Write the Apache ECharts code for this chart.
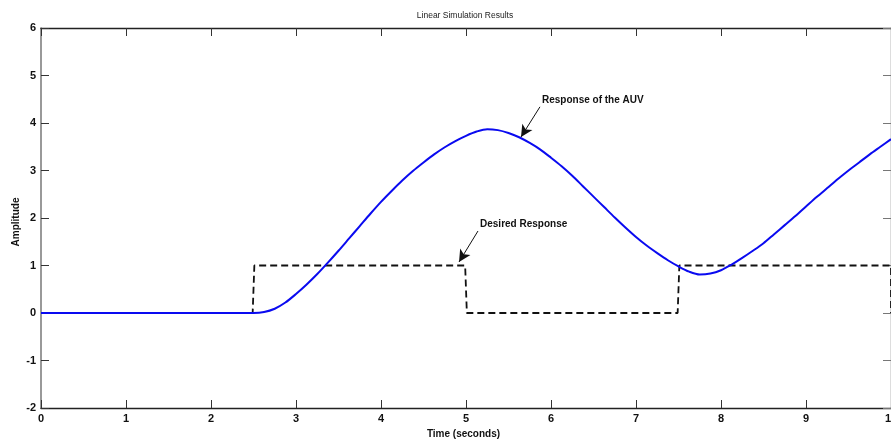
<!DOCTYPE html>
<html>
<head>
<meta charset="utf-8">
<script src="https://cdn.jsdelivr.net/npm/echarts@6/dist/echarts.min.js"></script>
<style>
  html, body { margin: 0; padding: 0; background: #fff; overflow: hidden; }
  #chart { width: 891px; height: 441px; }
</style>
</head>
<body>
<div id="chart"></div>
<script>
// Simulated AUV output (time in seconds, amplitude)
const responseTime = [
  0, 0.5, 1, 1.5, 2, 2.25, 2.5, 2.625, 2.75, 2.875,
  3.0, 3.125, 3.25, 3.375, 3.5, 3.625, 3.75, 3.875,
  4.0, 4.125, 4.25, 4.375, 4.5, 4.625, 4.75, 4.875,
  5.0, 5.125, 5.25, 5.375, 5.5, 5.625, 5.75, 5.875,
  6.0, 6.125, 6.25, 6.375, 6.5, 6.625, 6.75, 6.875,
  7.0, 7.125, 7.25, 7.375, 7.5, 7.625, 7.75, 7.875,
  8.0, 8.125, 8.25, 8.375, 8.5, 8.625, 8.75, 8.875,
  9.0, 9.125, 9.25, 9.375, 9.5, 9.625, 9.75, 9.875, 10.0
];
const responseAmp = [
  0, 0, 0, 0, 0, 0, 0, 0.02, 0.09, 0.22,
  0.40, 0.60, 0.82, 1.06, 1.31, 1.57, 1.83, 2.09,
  2.34, 2.57, 2.79, 2.99, 3.17, 3.34, 3.49, 3.62,
  3.73, 3.82, 3.87, 3.85, 3.79, 3.70, 3.58, 3.44,
  3.27, 3.09, 2.89, 2.67, 2.45, 2.23, 2.01, 1.80,
  1.60, 1.42, 1.26, 1.11, 0.98, 0.87, 0.81, 0.83,
  0.90, 1.02, 1.16, 1.31, 1.47, 1.66, 1.85, 2.04,
  2.24, 2.44, 2.63, 2.82, 3.00, 3.17, 3.34, 3.50, 3.66
];

// Commanded square-wave input
const desiredTime = [0, 2.49, 2.51, 4.99, 5.01, 7.49, 7.51, 10.0, 10.0];
const desiredAmp  = [0, 0, 1, 1, 0, 0, 1, 1, 0];

// Axis ticks
const xTicks = { min: 0, max: 10, step: 1 };
const yTicks = { min: -2, max: 6, step: 1 };

// Callout anchors: [text position, arrow tail, arrow tip] in data units
const callouts = [
  { text: 'Response of the AUV', textAt: [5.894, 4.48], tail: [5.87, 4.34], tip: [5.647, 3.705] },
  { text: 'Desired Response',    textAt: [5.165, 1.874], tail: [5.141, 1.726], tip: [4.918, 1.074] }
];

const zip = (a, b) => a.map((v, i) => [v, b[i]]);

const FONT = 'Liberation Sans, Arial, sans-serif';
const labelStyle = { fontFamily: FONT, fontWeight: 'bold', fontSize: 11, color: '#111' };
const axisLineDark = { onZero: false, lineStyle: { color: '#222', width: 1.3 } };

const chart = echarts.init(document.getElementById('chart'), null, { renderer: 'canvas' });

const option = {
  animation: false,
  backgroundColor: '#fff',
  grid: { left: 41, right: 0, top: 28, bottom: 33, containLabel: false, outerBoundsMode: 'none' },
  xAxis: [
    {
      type: 'value', position: 'bottom', min: xTicks.min, max: xTicks.max, interval: xTicks.step,
      name: 'Time (seconds)', nameLocation: 'middle', nameGap: 20,
      nameTextStyle: { fontFamily: FONT, fontWeight: 'bold', fontSize: 10, color: '#111', padding: [0, 5, 0, 0] },
      axisLine: axisLineDark,
      axisTick: { inside: true, length: 8, lineStyle: { color: '#333' } },
      axisLabel: Object.assign({ margin: 5 }, labelStyle),
      splitLine: { show: false }
    },
    {
      type: 'value', position: 'top', min: xTicks.min, max: xTicks.max, interval: xTicks.step,
      axisLine: axisLineDark,
      axisTick: { inside: true, length: 8, lineStyle: { color: '#333' } },
      axisLabel: { show: false },
      splitLine: { show: false }
    }
  ],
  yAxis: [
    {
      type: 'value', position: 'left', min: yTicks.min, max: yTicks.max, interval: yTicks.step,
      axisLine: { onZero: false, lineStyle: { color: '#777', width: 1.5 } },
      axisTick: { inside: true, length: 8, lineStyle: { color: '#333' } },
      axisLabel: Object.assign({ margin: 5 }, labelStyle),
      splitLine: { show: false }
    },
    {
      type: 'value', position: 'right', min: yTicks.min, max: yTicks.max, interval: yTicks.step,
      axisLine: axisLineDark,
      axisTick: { inside: true, length: 8, lineStyle: { color: '#777' } },
      axisLabel: { show: false },
      splitLine: { show: false }
    }
  ],
  series: [
    {
      name: 'Desired Response', type: 'line', xAxisIndex: 0, yAxisIndex: 0,
      data: zip(desiredTime, desiredAmp), showSymbol: false, z: 2,
      lineStyle: { color: '#111', width: 1.8, type: [7, 4] }
    },
    {
      name: 'Response of the AUV', type: 'line', xAxisIndex: 0, yAxisIndex: 0,
      data: zip(responseTime, responseAmp), showSymbol: false, smooth: 0.3, z: 3,
      lineStyle: { color: '#0a0af0', width: 2 },
      markLine: {
        silent: true, symbol: ['none', 'arrow'], symbolSize: [9, 12],
        lineStyle: { color: '#111', width: 1, type: 'solid' },
        label: { show: false },
        data: callouts.map(c => [{ coord: c.tail }, { coord: c.tip }])
      }
    }
  ]
};
chart.setOption(option);

// Title, y-axis caption and callout labels
const plotTop = chart.convertToPixel({ gridIndex: 0 }, [0, yTicks.max])[1];
const plotBottom = chart.convertToPixel({ gridIndex: 0 }, [0, yTicks.min])[1];
const graphics = [
  {
    type: 'text', x: 465, y: 16, z: 10,
    style: { text: 'Linear Simulation Results', fill: '#222', font: '8.5px "Liberation Sans", Arial, sans-serif', textAlign: 'center', textVerticalAlign: 'middle' }
  },
  {
    type: 'text', x: 16, y: (plotTop + plotBottom) / 2 + 4, rotation: Math.PI / 2, z: 10,
    style: { text: 'Amplitude', fill: '#111', font: 'bold 10px "Liberation Sans", Arial, sans-serif', textAlign: 'center', textVerticalAlign: 'middle' }
  }
].concat(callouts.map(c => {
  const p = chart.convertToPixel({ gridIndex: 0 }, c.textAt);
  return {
    type: 'text', x: p[0], y: p[1], z: 10,
    style: {
      text: c.text, fill: '#111',
      font: 'bold 10px "Liberation Sans", Arial, sans-serif',
      textAlign: 'left', textVerticalAlign: 'middle'
    }
  };
}));
chart.setOption({ graphic: graphics });
</script>
</body>
</html>
